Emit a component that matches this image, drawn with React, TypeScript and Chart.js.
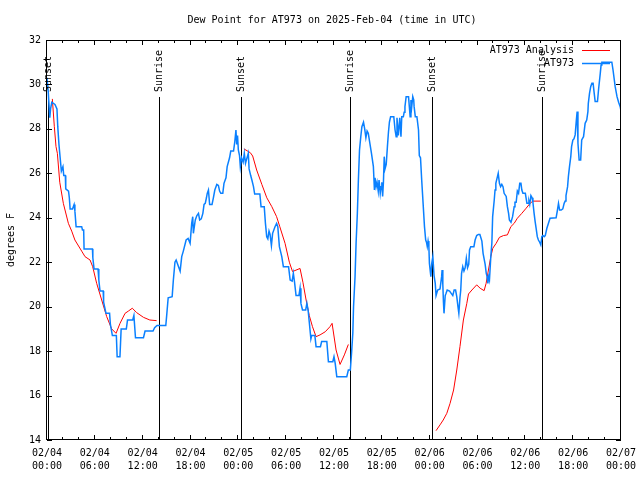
import React, { useEffect, useRef } from 'react';
import { Chart, registerables } from 'chart.js';

Chart.register(...registerables);

const TITLE = 'Dew Point for AT973 on 2025-Feb-04 (time in UTC)';
const Y_LABEL = 'degrees F';
const SERIES_NAMES = ['AT973 Analysis', 'AT973'];
const SERIES_COLORS = ['#ff0000', '#0a80ff'];
const X_MIN = 0;
const X_MAX = 72;
const X_STEP = 6;
const X_MINOR = 2;
const Y_MIN = 14;
const Y_MAX = 32;
const Y_STEP = 2;
const START_DAY = 4;

const sunHours = [0.15, 14.09, 24.3, 38.05, 48.34, 62.14];
const sunLabels = ['Sunset', 'Sunrise', 'Sunset', 'Sunrise', 'Sunset', 'Sunrise'];

const obsHours = [
  0.0, 0.15, 0.35, 0.45, 0.6, 1.0, 1.25, 1.35, 1.5, 1.65, 1.8, 2.0, 2.1, 2.3, 2.35, 2.7, 2.8, 2.9, 3.2, 3.4,
  3.5, 3.65, 4.35, 4.45, 4.6, 4.65, 5.7, 5.75, 5.9, 6.4, 6.5, 6.65, 7.05, 7.1, 7.4, 7.85, 7.95, 8.2, 8.7, 8.8,
  9.15, 9.3, 9.95, 10.1, 10.75, 10.9, 11.1, 12.1, 12.3, 13.3, 13.5, 13.8, 14.9, 15.0, 15.2, 15.7, 15.85, 16.05, 16.2, 16.5,
  16.7, 16.9, 17.1, 17.45, 17.7, 17.95, 18.15, 18.28, 18.36, 18.6, 18.8, 19.0, 19.15, 19.35, 19.55, 19.7, 19.85, 20.0, 20.1, 20.25,
  20.4, 20.7, 20.87, 21.05, 21.3, 21.5, 21.65, 21.8, 22.05, 22.2, 22.45, 22.6, 22.9, 23.05, 23.4, 23.55, 23.7, 23.8, 23.9, 24.0,
  24.15, 24.25, 24.4, 24.6, 24.75, 24.9, 25.05, 25.25, 25.35, 25.55, 25.7, 25.9, 26.05, 26.7, 26.85, 27.25, 27.4, 27.56, 27.7, 27.85,
  27.98, 28.15, 28.3, 28.6, 28.8, 28.95, 29.15, 29.45, 29.65, 30.3, 30.5, 30.75, 30.9, 31.05, 31.24, 31.6, 31.74, 31.85, 32.05, 32.45,
  32.6, 32.75, 32.9, 33.1, 33.2, 33.6, 33.75, 34.3, 34.45, 35.1, 35.3, 35.85, 36.0, 36.15, 36.35, 37.6, 37.8, 38.05, 38.2, 38.36,
  38.45, 38.64, 38.77, 38.93, 39.06, 39.2, 39.36, 39.5, 39.7, 39.85, 40.0, 40.15, 40.3, 40.5, 40.7, 40.94, 41.07, 41.15, 41.28, 41.4,
  41.55, 41.65, 41.8, 41.9, 42.0, 42.1, 42.2, 42.3, 42.4, 42.55, 42.7, 42.83, 42.95, 43.1, 43.5, 43.66, 43.8, 43.9, 44.07, 44.25,
  44.4, 44.5, 44.7, 44.8, 44.9, 45.05, 45.35, 45.45, 45.55, 45.65, 45.75, 45.88, 46.0, 46.05, 46.2, 46.4, 46.6, 46.7, 46.85, 47.0,
  47.2, 47.35, 47.5, 47.6, 47.7, 47.8, 47.9, 47.97, 48.15, 48.26, 48.4, 48.55, 48.7, 48.8, 49.0, 49.3, 49.5, 49.56, 49.65, 49.73,
  49.8, 49.95, 50.06, 50.2, 50.5, 50.7, 50.9, 51.07, 51.25, 51.4, 51.55, 51.66, 51.8, 51.9, 52.0, 52.15, 52.3, 52.45, 52.6, 52.75,
  52.9, 53.0, 53.15, 53.55, 53.7, 53.9, 54.1, 54.3, 54.55, 54.7, 54.96, 55.1, 55.2, 55.3, 55.4, 55.5, 55.67, 55.8, 55.9, 56.1,
  56.2, 56.3, 56.5, 56.6, 56.75, 56.9, 57.05, 57.2, 57.34, 57.6, 57.75, 57.9, 58.0, 58.2, 58.4, 58.6, 58.7, 58.85, 59.0, 59.15,
  59.3, 59.45, 59.56, 59.7, 60.0, 60.2, 60.35, 60.45, 60.55, 60.7, 60.85, 60.95, 61.1, 61.23, 61.35, 61.5, 61.64, 61.8, 61.94, 62.07,
  62.2, 62.36, 62.5, 62.7, 62.9, 63.1, 63.86, 64.03, 64.16, 64.3, 64.5, 64.7, 64.87, 65.0, 65.1, 65.3, 65.4, 65.54, 65.7, 65.8,
  65.96, 66.1, 66.25, 66.4, 66.5, 66.6, 66.75, 66.94, 67.07, 67.3, 67.5, 67.7, 67.85, 67.9, 68.05, 68.2, 68.35, 68.5, 68.64, 68.76,
  69.05, 69.2, 69.4, 69.5, 69.6, 70.85, 71.0, 71.27, 71.5, 71.7, 71.9, 72.0,
];
const obsValues = [
  30.3, 29.7, 28.5, 28.9, 29.2, 29.1, 28.9, 28.1, 27.3, 26.7, 26.1, 26.3, 25.9, 25.9, 25.3, 25.2, 24.9, 24.4, 24.4, 24.6,
  24.3, 23.6, 23.6, 23.45, 23.45, 22.6, 22.6, 22.2, 21.7, 21.7, 21.2, 20.7, 20.7, 20.2, 19.7, 19.7, 19.2, 18.7, 18.7, 17.75,
  17.75, 19.0, 19.0, 19.4, 19.4, 19.6, 18.6, 18.6, 18.9, 18.9, 19.05, 19.15, 19.15, 19.55, 20.4, 20.45, 21.2, 22.0, 22.1, 21.8,
  21.6, 22.25, 22.5, 23.0, 23.07, 22.85, 23.75, 24.05, 23.3, 23.9, 24.1, 24.2, 23.9, 23.95, 24.2, 24.6, 24.65, 24.9, 25.1, 25.25,
  24.6, 24.6, 24.9, 25.25, 25.5, 25.45, 25.2, 25.1, 25.1, 25.55, 25.8, 26.3, 26.7, 27.0, 27.0, 27.4, 27.95, 27.3, 27.7, 27.05,
  26.8, 26.3, 26.7, 26.5, 26.9, 26.45, 26.65, 26.9, 26.2, 25.9, 25.7, 25.4, 25.07, 25.07, 24.5, 24.5, 23.75, 23.15, 23.05, 23.4,
  23.25, 22.75, 23.3, 23.6, 23.75, 23.6, 22.7, 22.25, 21.8, 21.8, 21.2, 21.15, 21.5, 21.1, 20.5, 20.5, 20.83, 20.15, 19.85, 19.85,
  20.15, 19.85, 19.3, 18.55, 18.7, 18.7, 18.2, 18.2, 18.43, 18.43, 17.52, 17.52, 17.75, 17.45, 16.85, 16.85, 17.15, 17.15, 17.9, 18.8,
  20.0, 21.35, 22.85, 24.2, 25.7, 27.05, 27.65, 28.1, 28.3, 28.0, 27.6, 27.9, 27.8, 27.35, 26.9, 26.3, 25.25, 25.8, 25.4, 25.6,
  25.2, 25.7, 25.1, 25.4, 25.6, 24.96, 25.6, 26.75, 26.2, 26.4, 27.2, 27.85, 28.3, 28.55, 28.55, 27.95, 27.65, 28.5, 27.7, 28.5,
  27.65, 28.55, 28.55, 28.75, 29.0, 29.45, 29.45, 29.0, 28.55, 29.3, 29.0, 29.45, 29.3, 29.0, 28.55, 28.55, 27.95, 26.8, 26.7, 25.7,
  24.5, 23.6, 23.0, 22.9, 22.7, 22.95, 22.7, 21.95, 21.35, 21.95, 22.25, 21.4, 21.05, 20.5, 20.75, 20.8, 21.35, 21.65, 21.0, 20.2,
  19.7, 20.5, 20.6, 20.75, 20.7, 20.6, 20.5, 20.75, 20.75, 20.45, 20.0, 19.7, 20.4, 20.75, 21.5, 21.8, 21.6, 21.75, 22.18, 21.75,
  21.9, 22.55, 22.7, 22.7, 23.0, 23.2, 23.25, 23.25, 22.95, 22.4, 21.9, 21.5, 21.35, 21.05, 21.35, 21.2, 22.25, 22.85, 24.05, 24.8,
  25.25, 25.55, 25.85, 26.0, 25.55, 25.4, 25.5, 25.4, 25.1, 24.96, 24.5, 24.2, 23.9, 23.8, 24.05, 24.5, 24.7, 24.7, 25.2, 25.1,
  25.55, 25.55, 25.25, 25.1, 25.1, 24.65, 24.65, 24.75, 24.6, 25.0, 24.9, 24.7, 24.2, 23.83, 23.53, 23.15, 23.0, 22.9, 22.78, 23.15,
  23.2, 23.15, 23.2, 23.53, 23.75, 23.98, 24.0, 24.35, 24.65, 24.35, 24.35, 24.4, 24.65, 24.75, 25.0, 25.4, 25.85, 26.3, 26.75, 27.2,
  27.5, 27.55, 27.73, 28.4, 28.78, 27.35, 26.6, 26.6, 27.5, 27.65, 28.25, 28.4, 28.78, 29.15, 29.6, 29.9, 30.05, 30.05, 29.6, 29.23,
  29.23, 29.83, 30.5, 30.87, 31.0, 31.0, 30.65, 29.9, 29.45, 29.2, 29.0, 28.8,
];

const anaHours = [
  0.67, 0.92, 1.13, 1.3, 1.6, 2.05, 2.68, 3.1, 3.5, 4.35, 4.77, 5.4, 5.73, 6.23, 6.86, 7.49, 8.11, 8.66, 9.16, 9.79,
  10.2, 10.7, 11.25, 12.1, 12.9, 13.75,
  19.0,
  24.7, 25.5, 25.8, 26.3, 26.95, 27.57, 28.2, 28.8, 29.2, 29.86, 30.4, 30.8, 31.74, 32.1, 32.5, 32.9, 33.3, 33.75, 34.25,
  34.9, 35.5, 35.76, 36.26, 36.76, 37.3, 37.8,
  43.0,
  48.8, 49.3, 49.7, 50.15, 50.56, 51.0, 51.4, 51.8, 52.23, 52.66, 52.87, 53.3, 53.9, 54.33, 54.83, 55.08, 55.37, 55.67, 55.92, 56.34,
  56.75, 57.26, 57.75, 58.18, 58.6, 59.0, 59.56, 60.1, 60.6, 60.94, 61.94,
];
const anaValues = [
  29.35, 28.1, 27.2, 26.9, 25.6, 24.65, 23.75, 23.4, 23.0, 22.5, 22.25, 22.1, 21.8, 21.05, 20.3, 19.55, 19.0, 18.8, 19.25, 19.7,
  19.8, 19.93, 19.73, 19.52, 19.4, 19.37,
  null,
  27.1, 26.93, 26.78, 26.15, 25.5, 24.9, 24.5, 24.05, 23.6, 22.85, 22.0, 21.58, 21.72, 21.1, 20.3, 19.6, 19.1, 18.65, 18.73,
  18.87, 19.1, 19.25, 18.05, 17.4, 17.83, 18.3,
  null,
  14.42, 14.68, 14.9, 15.2, 15.65, 16.25, 17.15, 18.2, 19.4, 20.15, 20.57, 20.75, 20.98, 20.83, 20.72, 21.05, 21.65, 22.25, 22.63, 22.85,
  23.12, 23.2, 23.23, 23.6, 23.75, 23.98, 24.2, 24.43, 24.65, 24.75, 24.75,
];

const FONT = "'DejaVu Sans Mono', 'Liberation Mono', monospace";

function pad2(n: number) {
  return n < 10 ? '0' + n : String(n);
}

const decorPlugin = {
  id: 'decor',
  beforeDatasetsDraw(chart: any) {
    const { ctx, chartArea, scales } = chart;
    ctx.save();
    ctx.strokeStyle = '#000';
    ctx.lineWidth = 1;
    sunHours.forEach((h) => {
      const x = Math.round(scales.x.getPixelForValue(h)) + 0.5;
      ctx.beginPath();
      ctx.moveTo(x, chartArea.top + 57);
      ctx.lineTo(x, chartArea.bottom);
      ctx.stroke();
    });
    ctx.restore();
  },
  afterDatasetsDraw(chart: any) {
    const { ctx, chartArea, scales } = chart;
    const { left, right, top, bottom } = chartArea;
    ctx.save();
    ctx.strokeStyle = '#000';
    ctx.lineWidth = 1;
    // frame
    ctx.strokeRect(left - 0.5, top + 0.5, right - left, bottom - top - 1);
    // inward ticks on all four sides
    ctx.beginPath();
    for (let v = X_MIN; v <= X_MAX; v += X_MINOR) {
      const major = v % X_STEP === 0;
      const len = major ? 5 : 3;
      const x = Math.round(scales.x.getPixelForValue(v)) - 0.5;
      ctx.moveTo(x, bottom);
      ctx.lineTo(x, bottom - len);
      ctx.moveTo(x, top);
      ctx.lineTo(x, top + len);
    }
    for (let v = Y_MIN; v <= Y_MAX; v += Y_STEP) {
      const y = Math.round(scales.y.getPixelForValue(v)) + 0.5;
      ctx.moveTo(left, y);
      ctx.lineTo(left + 5, y);
      ctx.moveTo(right, y);
      ctx.lineTo(right - 5, y);
    }
    ctx.stroke();

    ctx.fillStyle = '#000';
    ctx.font = '10px ' + FONT;
    // sunrise / sunset labels
    sunHours.forEach((h, i) => {
      const x = Math.round(scales.x.getPixelForValue(h)) + 0.5;
      ctx.save();
      ctx.translate(x, top + 52);
      ctx.rotate(-Math.PI / 2);
      ctx.textAlign = 'left';
      ctx.textBaseline = 'middle';
      ctx.fillText(sunLabels[i], 0, 0);
      ctx.restore();
    });

    // legend
    ctx.textAlign = 'right';
    ctx.textBaseline = 'middle';
    SERIES_NAMES.forEach((name, i) => {
      const y = top + 10 + i * 13;
      ctx.fillStyle = '#000';
      ctx.fillText(name, right - 47, y);
      ctx.strokeStyle = SERIES_COLORS[i];
      ctx.lineWidth = i === 1 ? 1.5 : 1;
      ctx.beginPath();
      ctx.moveTo(right - 39, y + 0.5);
      ctx.lineTo(right - 11, y + 0.5);
      ctx.stroke();
    });

    // title
    ctx.fillStyle = '#000';
    ctx.textAlign = 'center';
    ctx.textBaseline = 'middle';
    ctx.fillText(TITLE, (left + right) / 2 - 2, 20);

    // y label
    ctx.save();
    ctx.translate(11, (top + bottom) / 2);
    ctx.rotate(-Math.PI / 2);
    ctx.textAlign = 'center';
    ctx.textBaseline = 'middle';
    ctx.fillText(Y_LABEL, 0, 0);
    ctx.restore();

    ctx.restore();
  },
};

export default function App() {
  const canvasRef = useRef<HTMLCanvasElement | null>(null);

  useEffect(() => {
    const canvas = canvasRef.current;
    if (!canvas) return;
    const obsData = obsHours.map((h, i) => ({ x: h, y: obsValues[i] }));
    const anaData = anaHours.map((h, i) => ({ x: h, y: anaValues[i] }));
    const chart = new Chart(canvas, {
      type: 'line',
      data: {
        datasets: [
          {
            label: SERIES_NAMES[0],
            data: anaData as any,
            borderColor: SERIES_COLORS[0],
            borderWidth: 1,
            pointRadius: 0,
            tension: 0,
            spanGaps: false,
            fill: false,
            order: 1,
          },
          {
            label: SERIES_NAMES[1],
            data: obsData as any,
            borderColor: SERIES_COLORS[1],
            borderWidth: 1.5,
            pointRadius: 0,
            tension: 0,
            fill: false,
            order: 0,
          },
        ],
      },
      options: {
        animation: false,
        responsive: false,
        devicePixelRatio: 1,
        layout: { padding: { top: 40, right: 19, left: 0, bottom: 0 } },
        plugins: {
          legend: { display: false },
          title: { display: false },
          tooltip: { enabled: false },
        },
        scales: {
          x: {
            type: 'linear',
            min: X_MIN,
            max: X_MAX,
            grid: { display: false, drawTicks: false },
            border: { display: false },
            ticks: {
              stepSize: X_STEP,
              autoSkip: false,
              maxRotation: 0,
              padding: 7,
              color: '#000',
              font: { family: FONT, size: 10, lineHeight: 1.3 },
              callback: (value: any) => {
                const v = Number(value);
                const day = START_DAY + Math.floor(v / 24);
                const hr = v % 24;
                return ['02/' + pad2(day), pad2(hr) + ':00'];
              },
            },
            afterFit: (s: any) => {
              s.height = 40;
              s.paddingLeft = 0;
              s.paddingRight = 0;
            },
          },
          y: {
            type: 'linear',
            min: Y_MIN,
            max: Y_MAX,
            grid: { display: false, drawTicks: false },
            border: { display: false },
            ticks: {
              stepSize: Y_STEP,
              padding: 6,
              color: '#000',
              font: { family: FONT, size: 10 },
            },
            afterFit: (s: any) => {
              s.width = 47;
              s.paddingTop = 0;
              s.paddingBottom = 0;
            },
          },
        },
      } as any,
      plugins: [decorPlugin],
    });
    return () => chart.destroy();
  }, []);

  return (
    <div style={{ position: 'absolute', left: 0, top: 0, width: 640, height: 480, background: '#fff' }}>
      <canvas ref={canvasRef} width={640} height={480} style={{ width: 640, height: 480, display: 'block' }} />
    </div>
  );
}
